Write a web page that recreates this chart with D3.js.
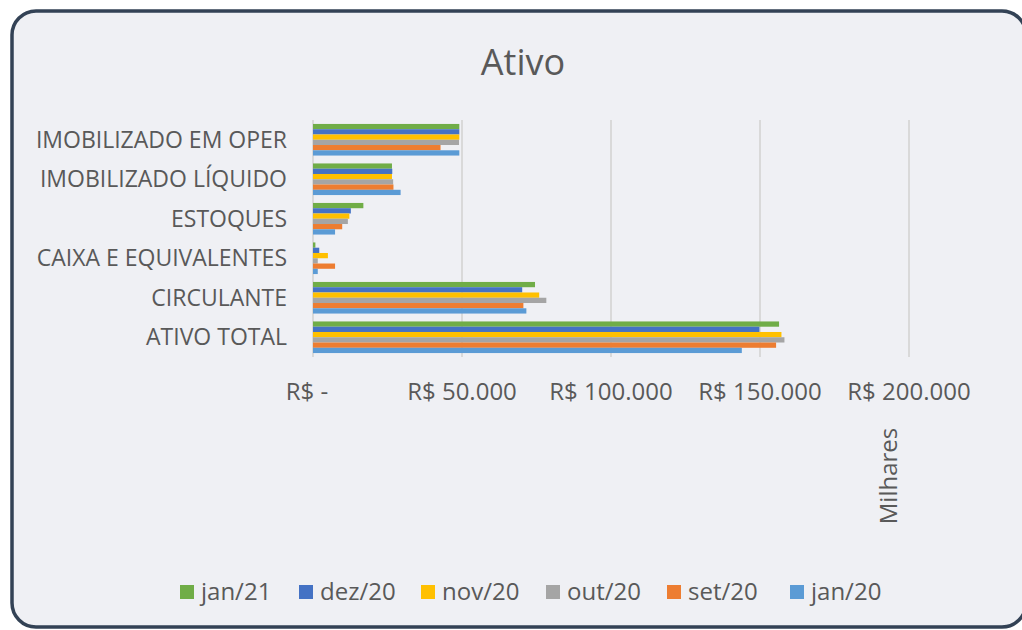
<!DOCTYPE html>
<html>
<head>
<meta charset="utf-8">
<script src="https://cdn.jsdelivr.net/npm/d3@7"></script>
<style>
  body { margin: 0; background: #ffffff; }
  svg { display: block; font-family: "Open Sans", sans-serif; }
  .cat-label { fill: #595959; font-size: 23px; }
  .tick-label { fill: #595959; font-size: 24px; }
  .title { fill: #595959; font-size: 36px; }
  .legend-text { fill: #595959; font-size: 24px; }
</style>
</head>
<body>
<div id="chart"></div>
<script>
// Dados (valores em milhares de R$)
const categorias = ["IMOBILIZADO EM OPER", "IMOBILIZADO LÍQUIDO", "ESTOQUES", "CAIXA E EQUIVALENTES", "CIRCULANTE", "ATIVO TOTAL"];
const series = ["jan/21", "dez/20", "nov/20", "out/20", "set/20", "jan/20"];
const cores = ["#70ad47", "#4472c4", "#ffc000", "#a5a5a5", "#ed7d31", "#5b9bd5"];

const jan21 = [49100, 26500, 16900, 800, 74500, 156400];
const dez20 = [49100, 26600, 12700, 2100, 70200, 149800];
const nov20 = [49100, 26500, 12200, 5000, 75900, 157200];
const out20 = [49000, 26900, 11700, 1600, 78300, 158200];
const set20 = [42800, 27000, 9800, 7400, 70600, 155400];
const jan20 = [49100, 29400, 7400, 1600, 71600, 143900];
const valores = [jan21, dez20, nov20, out20, set20, jan20];

const ticks = [0, 50000, 100000, 150000, 200000];

const width = 1022, height = 630;

const svg = d3.select("#chart")
  .append("svg")
  .attr("width", width)
  .attr("height", height);

// Moldura arredondada
svg.append("rect")
  .attr("x", 12)
  .attr("y", 11)
  .attr("width", 1014)
  .attr("height", 616)
  .attr("rx", 24)
  .attr("ry", 24)
  .attr("fill", "#eff0f4")
  .attr("stroke", "#334255")
  .attr("stroke-width", 3.5);

// Título
svg.append("text")
  .attr("class", "title")
  .attr("x", 523)
  .attr("y", 75)
  .attr("text-anchor", "middle")
  .text("Ativo");

// Escalas
const x = d3.scaleLinear()
  .domain([0, 200000])
  .range([313, 909]);

const y0 = d3.scaleBand()
  .domain(categorias)
  .range([120, 357])
  .paddingInner(0.2)
  .paddingOuter(0.1);

const y1 = d3.scaleBand()
  .domain(series)
  .range([0, y0.bandwidth()]);

// Linhas de grade
svg.append("g")
  .selectAll("line")
  .data(ticks)
  .enter()
  .append("line")
  .attr("x1", d => x(d))
  .attr("x2", d => x(d))
  .attr("y1", 120)
  .attr("y2", 357)
  .attr("stroke", "#d9d9d9")
  .attr("stroke-width", 2);

// Rótulos do eixo x
const fmt = d => d === 0 ? "R$ -" : "R$ " + d3.format(",")(d).replace(/,/g, ".");
svg.append("g")
  .selectAll("text")
  .data(ticks)
  .enter()
  .append("text")
  .attr("class", "tick-label")
  .attr("x", d => x(d) + (d === 0 ? -6 : 0))
  .attr("y", 400)
  .attr("text-anchor", "middle")
  .text(fmt);

// Unidade de exibição
svg.append("text")
  .attr("class", "tick-label")
  .attr("font-size", "23px")
  .attr("transform", "translate(897,476) rotate(-90)")
  .attr("text-anchor", "middle")
  .text("Milhares");

// Rótulos das categorias
svg.append("g")
  .selectAll("text")
  .data(categorias)
  .enter()
  .append("text")
  .attr("class", "cat-label")
  .attr("x", 287)
  .attr("y", d => y0(d) + y0.bandwidth() / 2)
  .attr("dy", "0.35em")
  .attr("text-anchor", "end")
  .text(d => d);

// Barras agrupadas
const grupos = svg.append("g")
  .selectAll("g")
  .data(categorias)
  .enter()
  .append("g")
  .attr("transform", d => `translate(0,${y0(d)})`);

grupos.selectAll("rect")
  .data((c, ci) => series.map((s, si) => ({ serie: s, cor: cores[si], valor: valores[si][ci] })))
  .enter()
  .append("rect")
  .attr("x", x(0))
  .attr("y", d => y1(d.serie))
  .attr("width", d => x(d.valor) - x(0))
  .attr("height", y1.bandwidth())
  .attr("fill", d => d.cor);

// Legenda
const legendaX = [180, 299, 421, 546, 667, 790];
const legenda = svg.append("g")
  .selectAll("g")
  .data(series)
  .enter()
  .append("g")
  .attr("transform", (d, i) => `translate(${legendaX[i]},585)`);

legenda.append("rect")
  .attr("width", 14)
  .attr("height", 14)
  .attr("fill", (d, i) => cores[i]);

legenda.append("text")
  .attr("class", "legend-text")
  .attr("x", 21)
  .attr("y", 15)
  .text(d => d);
</script>
</body>
</html>
